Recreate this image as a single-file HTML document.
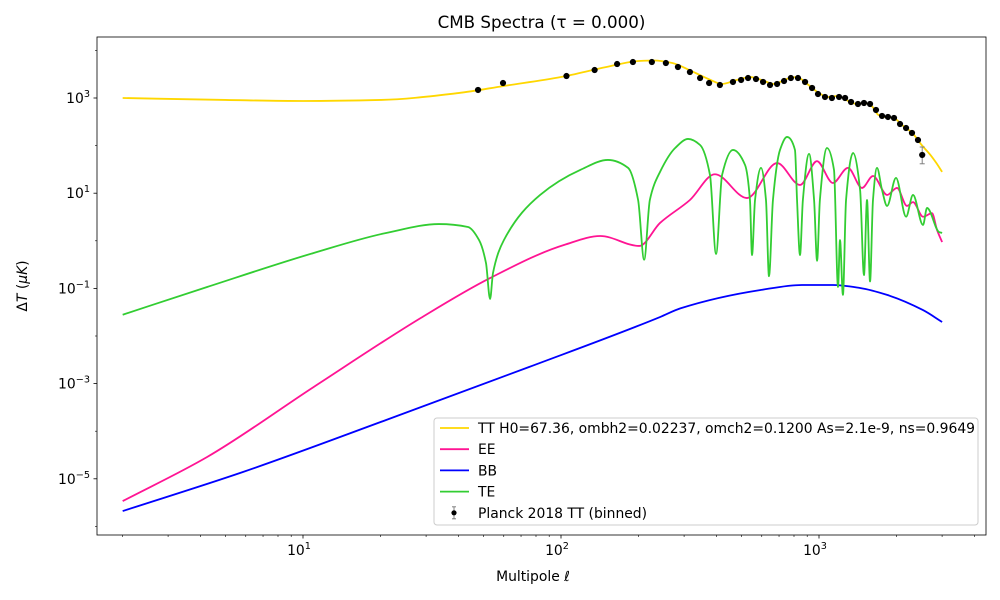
<!DOCTYPE html>
<html><head><meta charset="utf-8"><title>CMB Spectra</title>
<style>
html,body{margin:0;padding:0;background:#fff;}
svg{display:block;font-family:"DejaVu Sans","Liberation Sans",sans-serif;}
</style></head>
<body>
<svg id="chart" width="1000" height="600" viewBox="0 0 1000 600" xmlns="http://www.w3.org/2000/svg">
<rect x="0" y="0" width="1000" height="600" fill="#fff"/>
<text x="541.5" y="28" font-size="16.7" text-anchor="middle" fill="#000">CMB Spectra (τ = 0.000)</text>
<text x="533" y="581" font-size="13.9" text-anchor="middle" fill="#000">Multipole <tspan font-style="italic">ℓ</tspan></text>
<text transform="translate(27,286) rotate(-90)" font-size="13.9" text-anchor="middle" fill="#000">Δ<tspan font-style="italic">T</tspan> (<tspan font-style="italic">μK</tspan>)</text>
<g id="plot"></g>
</svg>
<script>
// ---- data ----
const ttModelL = [2,5,10,20,40,60,100,150,200,230,270,320,380,420,480,540,600,670,750,820,900,1000,1080,1180,1300,1400,1500,1600,1700,1800,1950,2100,2300,2500,2700,2850,3000];
const ttModelV = [1000,910,865,910,1270,1790,2760,4480,5980,6130,5440,3690,2390,1970,2390,2760,2390,1970,2510,2760,1970,1270,1050,1100,865,750,785,680,440,400,380,270,184,103,64,43,28];
const eeL = [2,4.25,11,28.6,53.1,103,142,201,242,316,395,526,688,844,982,1132,1295,1468,1620,1836,2006,2193,2314,2530,2741,2867,3000];
const eeV = [3.4e-6,2.87e-5,8.5e-4,0.0239,0.165,0.82,1.26,0.78,2.37,7.2,25,7.9,43,14.9,47,16.4,34,12.9,23,9.2,12.9,5.4,6.5,3.2,3.8,1.69,0.94];
const bbL = [2,5.85,21,75.2,242,290,590,859,1132,1443,1836,2530,3000];
const bbV = [2.1e-6,1.39e-5,1.72e-4,2.23e-3,0.025,0.038,0.092,0.118,0.118,0.102,0.073,0.035,0.0197];
const teL = [2,4.25,11,21,33.6,43.6,48.1,51.2,53.1,54.5,60.1,83,119,152,182,199,210,221,242,277,311,346,378,399,421,464,517,540,550,565,596,623,640,663,706,752,807,822,844,866,915,957,983,1008,1074,1143,1185,1206,1238,1273,1355,1443,1494,1535,1577,1619,1678,1755,1836,1988,2175,2314,2530,2623,2919,3000];
const teV = [0.028,0.107,0.555,1.46,2.25,1.95,1.04,0.34,0.06,0.21,1.04,9.2,31,50,34,7.2,0.40,7.2,28,89,138,103,24,0.53,24,81,39,7.2,0.50,7.2,34,7.2,0.18,7.2,81,152,81,7.2,0.50,7.2,67,7.2,0.38,7.2,89,31,0.107,1.04,0.073,7.2,70,11.7,0.19,7.2,0.14,7.2,34,11.7,5.4,21,3.2,9.2,2.15,4.9,1.53,1.46];
const planckL = [47.7,59.6,105,135,165,190,225,255,284,316,346,375,413,464,499,531,570,607,646,688,732,778,829,883,940,991,1055,1122,1196,1262,1331,1416,1494,1577,1663,1755,1850,1953,2061,2175,2293,2419,2512];
const planckV = [1473,2065,2896,3873,5176,5700,5700,5430,4480,3515,2630,2065,1875,2170,2390,2630,2505,2170,1875,1970,2275,2630,2630,2170,1622,1213,1050,1000,1050,1000,824,748,785,748,560,419,399,380,284,234,184,131,63.5];
const planckErrLo = [0,0,0,0,0,0,0,0,0,0,0,0,0,0,0,0,0,0,0,0,0,0,0,0,0,0,0,0,0,0,0,0,0,0,0,0,0,0,0,0,0,0,22];
const planckErrHi = [0,0,0,0,0,0,0,0,0,0,0,0,0,0,0,0,0,0,0,0,0,0,0,0,0,0,0,0,0,0,0,0,0,0,0,0,0,0,0,0,0,0,30];
const yTickExp = [-5,-3,-1,1,3];
const xTickExp = [1,2,3];

// ---- axes ----
const AX = {l:97, r:986, t:37, b:535};
const X10 = 303, XDEC = 258;
const Y3 = 98, YDEC = 47.6;
function xs(l){ return X10 + (Math.log10(l)-1)*XDEC; }
function ys(v){ return Y3 - (Math.log10(v)-3)*YDEC; }
const NS = "http://www.w3.org/2000/svg";
const plot = document.getElementById('plot');
function mk(tag, attrs, parent){
  const e = document.createElementNS(NS, tag);
  for (const k in attrs) e.setAttribute(k, attrs[k]);
  (parent||plot).appendChild(e);
  return e;
}
const defs = mk('defs',{});
const cp = mk('clipPath',{id:'clip'},defs);
mk('rect',{x:AX.l,y:AX.t,width:AX.r-AX.l,height:AX.b-AX.t},cp);

const tickG = mk('g',{});


for (let d=0; d<=4; d++){
  for (let m=1; m<=9; m++){
    const l = m*Math.pow(10,d);
    const x = xs(l);
    if (x<AX.l || x>AX.r) continue;
    const major = m===1;
    mk('line',{x1:x,x2:x,y1:AX.b,y2:AX.b+(major?3.5:2),stroke:'#000','stroke-width':major?0.8:0.6},tickG);
  }
}
xTickExp.forEach(e=>{
  const x = xs(Math.pow(10,e));
  const t = mk('text',{x:x-4,y:AX.b+20,'font-size':13.9,'text-anchor':'middle',fill:'#000'},tickG);
  
  
  t.innerHTML = '10<tspan dy="-6" font-size="9.7">'+e+'</tspan>';
});
for (let e=-6; e<=4; e++){
  const y = ys(Math.pow(10,e));
  if (y<AX.t || y>AX.b) continue;
  const major = yTickExp.indexOf(e)>=0;
  mk('line',{x1:AX.l-(major?3.5:2),x2:AX.l,y1:y,y2:y,stroke:'#000','stroke-width':major?0.8:0.6},tickG);
}
yTickExp.forEach(e=>{
  const y = ys(Math.pow(10,e));
  const t = mk('text',{x:AX.l-7,y:y+5,'font-size':13.9,'text-anchor':'end',fill:'#000'},tickG);
  
  
  const s = e<0 ? '−'+(-e) : ''+e;
  t.innerHTML = '10<tspan dy="-6" font-size="9.7">'+s+'</tspan>';
});

function monoPath(L, V){
  const px = L.map(xs), py = V.map(ys);
  const n = px.length;
  const dx=[], m=[], s=[];
  for (let i=0;i<n-1;i++){ dx[i]=px[i+1]-px[i]; s[i]=(py[i+1]-py[i])/dx[i]; }
  m[0]=s[0]; m[n-1]=s[n-2];
  for (let i=1;i<n-1;i++){
    if (s[i-1]*s[i]<=0) m[i]=0;
    else { const w1=2*dx[i]+dx[i-1], w2=dx[i]+2*dx[i-1]; m[i]=(w1+w2)/(w1/s[i-1]+w2/s[i]); }
  }
  let d = 'M'+px[0].toFixed(2)+','+py[0].toFixed(2);
  for (let i=0;i<n-1;i++){
    const h=dx[i];
    d += ' C'+(px[i]+h/3).toFixed(2)+','+(py[i]+m[i]*h/3).toFixed(2)+' '+(px[i+1]-h/3).toFixed(2)+','+(py[i+1]-m[i+1]*h/3).toFixed(2)+' '+px[i+1].toFixed(2)+','+py[i+1].toFixed(2);
  }
  return d;
}
const series = mk('g',{'clip-path':'url(#clip)'});
const ttPath = mk('path',{d:monoPath(ttModelL,ttModelV),fill:'none',stroke:'#FFD700','stroke-width':1.8},series);


const eePath = mk('path',{d:monoPath(eeL,eeV),fill:'none',stroke:'#FF1493','stroke-width':1.8},series);


const bbPath = mk('path',{d:monoPath(bbL,bbV),fill:'none',stroke:'#0000FF','stroke-width':1.8},series);


const tePath = mk('path',{d:monoPath(teL,teV),fill:'none',stroke:'#32CD32','stroke-width':1.8},series);



const ptsG = mk('g',{},series);


planckL.forEach((l,i)=>{
  const x = xs(l), y = ys(planckV[i]);
  if (planckErrLo[i]>0 || planckErrHi[i]>0){
    const y1 = ys(planckV[i]+planckErrHi[i]), y2 = ys(planckV[i]-planckErrLo[i]);
    mk('line',{x1:x,x2:x,y1:y1,y2:y2,stroke:'#808080','stroke-width':1},ptsG);
    mk('line',{x1:x-2.5,x2:x+2.5,y1:y1,y2:y1,stroke:'#808080','stroke-width':1},ptsG);
    mk('line',{x1:x-2.5,x2:x+2.5,y1:y2,y2:y2,stroke:'#808080','stroke-width':1},ptsG);
  }
  const c = mk('circle',{cx:x,cy:y,r:3.1,fill:'#000'},ptsG);
  
  
});

const frame = mk('rect',{x:AX.l,y:AX.t,width:AX.r-AX.l,height:AX.b-AX.t,fill:'none',stroke:'#000','stroke-width':0.8});



const lg = mk('g',{});


mk('rect',{x:434,y:418,width:544,height:107,rx:3,fill:'#fff','fill-opacity':0.8,stroke:'#cccccc','stroke-width':1},lg);
const legItems = [
  ['TT H0=67.36, ombh2=0.02237, omch2=0.1200 As=2.1e-9, ns=0.9649','#FFD700','legend-entry-tt'],
  ['EE','#FF1493','legend-entry-ee'],
  ['BB','#0000FF','legend-entry-bb'],
  ['TE','#32CD32','legend-entry-te'],
  ['Planck 2018 TT (binned)',null,'legend-entry-planck']
];
legItems.forEach((it,i)=>{
  const y = 428 + i*21.2;
  const g = mk('g',{},lg);
  
  
  if (it[1]) mk('line',{x1:440,x2:469,y1:y,y2:y,stroke:it[1],'stroke-width':1.8},g);
  else {
    mk('line',{x1:454,x2:454,y1:y-6,y2:y+6,stroke:'#808080','stroke-width':1},g);
    mk('line',{x1:452,x2:456,y1:y-6,y2:y-6,stroke:'#808080','stroke-width':1},g);
    mk('line',{x1:452,x2:456,y1:y+6,y2:y+6,stroke:'#808080','stroke-width':1},g);
    mk('circle',{cx:454,cy:y,r:2.6,fill:'#000'},g);
  }
  const t = mk('text',{x:478,y:y+5,'font-size':13.9,fill:'#000'},g);
  t.textContent = it[0];
});
</script>
</body></html>
